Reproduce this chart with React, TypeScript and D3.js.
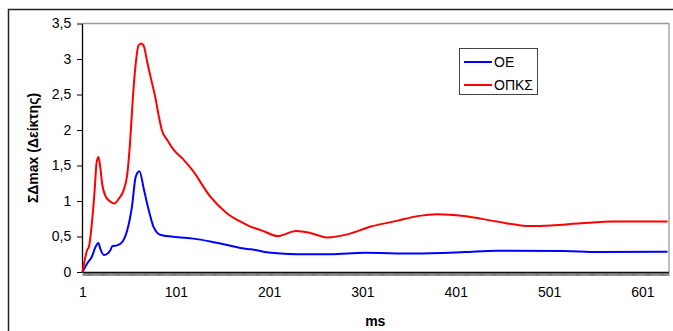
import React, { useEffect, useRef } from "react";
import * as d3 from "d3";

// ms (category index) and values
const oeMs = [1, 6, 11, 15, 18, 20, 24, 28, 31, 33, 38, 44, 49, 54, 58, 62, 67, 72, 77, 85, 103, 120, 138, 156, 174, 181, 203, 231, 267, 303, 356, 410, 445, 517, 553, 628];
const oeVal = [0, 0.12, 0.215, 0.355, 0.41, 0.33, 0.24, 0.26, 0.31, 0.365, 0.375, 0.43, 0.59, 0.92, 1.34, 1.42, 1.15, 0.87, 0.64, 0.52, 0.49, 0.47, 0.43, 0.38, 0.33, 0.32, 0.27, 0.25, 0.25, 0.27, 0.26, 0.28, 0.3, 0.295, 0.28, 0.285];

const opksMs = [1, 6, 8, 11, 14, 16, 18, 20, 22, 26, 31, 35, 40, 45, 49, 52, 55, 58, 61, 64, 67, 70, 74, 79, 83, 86, 92, 99, 108, 119, 138, 156, 174, 181, 192, 196, 210, 230, 245, 263, 285, 310, 338, 360, 381, 410, 445, 481, 503, 535, 570, 628];
const opksVal = [0, 0.31, 0.36, 0.68, 1.15, 1.53, 1.62, 1.48, 1.25, 1.06, 0.99, 0.965, 1.035, 1.15, 1.38, 1.83, 2.46, 2.93, 3.19, 3.22, 3.17, 2.98, 2.745, 2.46, 2.18, 2.0, 1.855, 1.715, 1.6, 1.43, 1.06, 0.825, 0.685, 0.64, 0.59, 0.57, 0.506, 0.576, 0.55, 0.487, 0.53, 0.64, 0.72, 0.787, 0.815, 0.79, 0.71, 0.647, 0.655, 0.685, 0.71, 0.71];

const nCategories = 629;
const xTickLabels = [1, 101, 201, 301, 401, 501, 601];
const yTicks = [0, 0.5, 1, 1.5, 2, 2.5, 3, 3.5];
const seriesNames = ["ΟΕ", "ΟΠΚΣ"];
const seriesColors = ["#0000ff", "#ff0000"];

const FONT = "Arial, 'Liberation Sans', sans-serif";

export default function App() {
  const ref = useRef<SVGSVGElement>(null);

  useEffect(() => {
    const svg = d3.select(ref.current);
    svg.selectAll("*").remove();

    const L = 82, R = 668.5, T = 23.5, B = 272;
    const x = d3.scaleLinear().domain([1, nCategories]).range([L + 0.5, R]);
    const y = d3.scaleLinear().domain([0, 3.5]).range([B, T]);

    // outer frame
    svg.append("rect").attr("x", 8.5).attr("y", 9.5).attr("width", 700).attr("height", 400)
      .attr("fill", "white").attr("stroke", "#222").attr("stroke-width", 1.5);

    // plot area border (top/right gray)
    svg.append("path").attr("d", `M${L},${T}H${R + 0.5}V${B}`).attr("fill", "none")
      .attr("stroke", "#9a9a9a").attr("stroke-width", 1.3);

    // x axis
    const cats = d3.range(1, nCategories + 1);
    const xAxis = d3.axisBottom(x).tickValues(cats).tickSize(4).tickSizeOuter(0)
      .tickFormat((d: any) => (xTickLabels.includes(+d) ? String(d) : ""));
    const gx = svg.append("g").attr("transform", `translate(0,${B})`).call(xAxis as any);
    gx.select(".domain").attr("stroke", "#000").attr("stroke-width", 1.3);
    gx.selectAll(".tick line").attr("stroke", "#222").attr("stroke-width", 0.55);
    gx.selectAll(".tick text").attr("font-family", FONT).attr("font-size", 14).attr("fill", "#000").attr("dy", "1.25em");

    // y axis
    const yAxis = d3.axisLeft(y).tickValues(yTicks).tickSize(5).tickSizeOuter(0)
      .tickFormat((d: any) => String(d).replace(".", ","));
    const gy = svg.append("g").attr("transform", `translate(${L},0)`).call(yAxis as any);
    gy.select(".domain").attr("stroke", "#000").attr("stroke-width", 1.3);
    gy.selectAll(".tick line").attr("stroke", "#000");
    gy.selectAll(".tick text").attr("font-family", FONT).attr("font-size", 14).attr("fill", "#000").attr("dx", "-0.2em");

    // lines
    const line = d3.line<[number, number]>().x(d => x(d[0])).y(d => y(d[1])).curve(d3.curveMonotoneX);
    const data: [number, number][][] = [
      oeMs.map((m, i) => [m, oeVal[i]]),
      opksMs.map((m, i) => [m, opksVal[i]]),
    ];
    data.forEach((d, i) => {
      svg.append("path").attr("d", line(d) as string).attr("fill", "none")
        .attr("stroke", seriesColors[i]).attr("stroke-width", 2).attr("stroke-linejoin", "round");
    });

    // axis titles
    svg.append("text").attr("transform", `translate(38,148) rotate(-90)`).attr("text-anchor", "middle")
      .attr("font-family", FONT).attr("font-size", 14).attr("font-weight", "bold").text("ΣΔmax (Δείκτης)");
    svg.append("text").attr("x", (L + R) / 2).attr("y", 326).attr("text-anchor", "middle")
      .attr("font-family", FONT).attr("font-size", 14).attr("font-weight", "bold").text("ms");

    // legend
    const lg = svg.append("g");
    lg.append("rect").attr("x", 459.5).attr("y", 48.5).attr("width", 78).attr("height", 46)
      .attr("fill", "white").attr("stroke", "#444").attr("stroke-width", 1);
    seriesNames.forEach((n, i) => {
      const yy = 62 + i * 23;
      lg.append("line").attr("x1", 464).attr("x2", 492).attr("y1", yy).attr("y2", yy)
        .attr("stroke", seriesColors[i]).attr("stroke-width", 2);
      lg.append("text").attr("x", 494).attr("y", yy + 5).attr("font-family", FONT).attr("font-size", 14)
        .text(n);
    });
  }, []);

  return (
    <svg ref={ref} width={673} height={331}
      style={{ position: "absolute", left: 0, top: 0, background: "white" }} />
  );
}
